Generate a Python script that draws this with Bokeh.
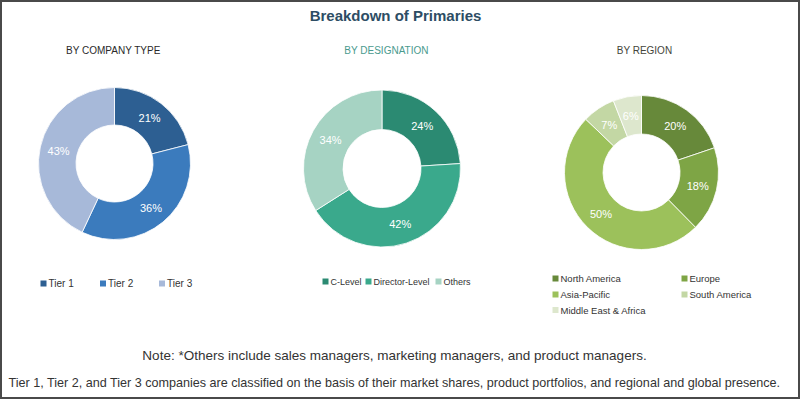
import math
from bokeh.plotting import figure
from bokeh.models import Range1d, ColumnDataSource
from bokeh.core.properties import value
from bokeh.embed import file_html
from bokeh.resources import INLINE

# ---- data ----
company_types = ["Tier 1", "Tier 2", "Tier 3"]
company_values = [21, 36, 43]
company_colors = ["#2d5f92", "#3b7bbd", "#a7b9d9"]

designations = ["C-Level", "Director-Level", "Others"]
designation_values = [24, 42, 34]
designation_colors = ["#2b8a72", "#3aa98c", "#a6d3c3"]

regions = ["North America", "Europe", "Asia-Pacific", "South America", "Middle East & Africa"]
region_values = [20, 18, 50, 7, 6]
region_colors = ["#67893a", "#7ea545", "#9cc15b", "#c3d7a4", "#dde7cd"]

title_text = "Breakdown of Primaries"
subtitles = ["BY COMPANY TYPE", "BY DESIGNATION", "BY REGION"]
note_text = "Note: *Others include sales managers, marketing managers, and product managers."
foot_text = ("Tier 1, Tier 2, and Tier 3 companies are classified on the basis of their market shares, "
             "product portfolios, and regional and global presence.")

W, H = 800, 399


def Y(y):
    # convert a top-down pixel position of the layout to data y
    return H - y


p = figure(width=W, height=H, output_backend="svg", toolbar_location=None,
           x_range=Range1d(0, W), y_range=Range1d(0, H),
           min_border=0, background_fill_color="white", border_fill_color="white")
p.axis.visible = False
p.xgrid.visible = False
p.ygrid.visible = False
p.outline_line_color = "#4a4a4a"
p.outline_line_width = 3

SANS = value("Liberation Sans")


def donut(cx, cy, R, r, vals, colors, label_fmt="{}%"):
    total = float(sum(vals))
    starts, ends, lx, ly, labels = [], [], [], [], []
    cum = 0.0
    for v in vals:
        a0 = cum / total
        a1 = (cum + v) / total
        starts.append(math.pi / 2 - a1 * 2 * math.pi)
        ends.append(math.pi / 2 - a0 * 2 * math.pi)
        mid = math.pi / 2 - (a0 + a1) / 2 * 2 * math.pi
        rm = (R + r) / 2
        lx.append(cx + rm * math.cos(mid))
        ly.append(Y(cy) + rm * math.sin(mid))
        labels.append(label_fmt.format(v))
        cum += v
    src = ColumnDataSource(dict(s=starts, e=ends, c=colors))
    p.annular_wedge(x=cx, y=Y(cy), inner_radius=r, outer_radius=R,
                    start_angle="s", end_angle="e", fill_color="c",
                    line_color="white", line_width=0.8, source=src)
    p.text(x=lx, y=ly, text=labels, text_color="white", text_font=SANS,
           text_font_size="11px", text_align="center", text_baseline="middle")


def legend(items, colors, xs, ys, size):
    p.scatter(x=list(xs), y=[Y(y) for y in ys], marker="square", size=6,
              fill_color=colors, line_color=None)
    p.text(x=[x + 5 for x in xs], y=[Y(y) for y in ys], text=items, text_color="#333333",
           text_font=SANS, text_font_size=size, text_align="left", text_baseline="middle")


# title and subtitles
p.text(x=[395], y=[Y(15)], text=[title_text], text_color="#2d4d64", text_font=SANS,
       text_font_style="bold", text_font_size="15px", text_align="center", text_baseline="middle")
p.text(x=[113, 386, 644], y=[Y(50)] * 3, text=subtitles,
       text_color=["#2a2a2a", "#4a9a8e", "#44443a"], text_font=SANS,
       text_font_size="10px", text_align="center", text_baseline="middle")

# donuts
donut(114, 163, 76, 38.5, company_values, company_colors)
donut(381.5, 168, 78.5, 39, designation_values, designation_colors)
donut(641, 172, 77, 38.5, region_values, region_colors)

# legends
legend(company_types, company_colors, [43, 102.5, 161.5], [283, 283, 283], "10px")
legend(designations, designation_colors, [325, 368, 438], [281, 281, 281], "9px")
legend(regions, region_colors, [555, 684, 555, 684, 555], [278, 278, 294, 294, 309.5], "9.5px")

# notes
p.text(x=[394], y=[Y(355)], text=[note_text], text_color="#333333", text_font=SANS,
       text_font_size="13.5px", text_align="center", text_baseline="middle")
p.text(x=[394], y=[Y(382)], text=[foot_text], text_color="#333333", text_font=SANS,
       text_font_size="12.6px", text_align="center", text_baseline="middle")

open("out.html", "w").write(file_html(p, INLINE))
